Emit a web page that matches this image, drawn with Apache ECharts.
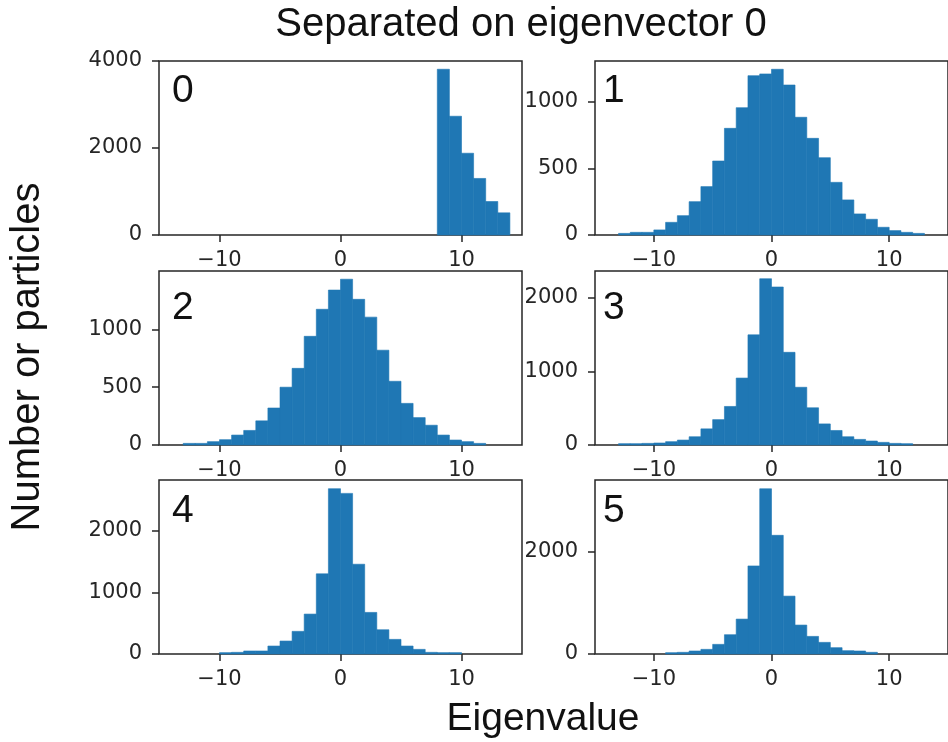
<!DOCTYPE html>
<html>
<head>
<meta charset="utf-8">
<script src="https://cdn.jsdelivr.net/npm/echarts@6/dist/echarts.min.js"></script>
<style>
html, body { margin: 0; padding: 0; background: #fff; }
#chart { width: 948px; height: 742px; }
</style>
</head>
<body>
<div id="chart"></div>
<script>
// histogram of eigenvalues, one panel per eigenvector, bins of width 1
const panelNames = ['0', '1', '2', '3', '4', '5']
const firstEdge = [8, -13, -13, -13, -10, -9]
const binWidth = 1
const counts0 = [3810, 2730, 1880, 1300, 770, 510]
const counts1 = [12, 20, 20, 38, 95, 145, 250, 363, 555, 800, 955, 1195, 1208, 1243, 1125, 883, 725, 580, 395, 263, 158, 118, 58, 33, 20, 12]
const counts2 = [14, 14, 29, 46, 86, 126, 209, 320, 500, 663, 940, 1174, 1340, 1434, 1260, 1106, 820, 551, 360, 237, 171, 86, 43, 29, 14]
const counts3 = [18, 18, 22, 27, 45, 67, 112, 219, 344, 523, 908, 1494, 2255, 2143, 1257, 783, 505, 286, 197, 112, 76, 54, 36, 22, 18]
const counts4 = [22, 27, 49, 49, 129, 210, 367, 647, 1299, 2679, 2603, 1455, 674, 393, 237, 129, 75, 27, 22, 22]
const counts5 = [26, 33, 59, 91, 189, 378, 684, 1726, 3238, 2326, 1134, 567, 345, 228, 124, 65, 59, 33]
const allCounts = [counts0, counts1, counts2, counts3, counts4, counts5]

const xTicks = [-10, 0, 10]
const yTicks = [[0, 2000, 4000], [0, 500, 1000], [0, 500, 1000], [0, 1000, 2000], [0, 1000, 2000], [0, 2000]]
const yMax = [4000, 1305, 1505, 2360, 2820, 3410]

const colLeft = [159, 595]
const rowTop = [61, 271, 480]
const gridW = 363
const gridH = 174
const numX = [172, 603]
const numY = [91, 308, 511]

const ink = '#262626'
const barColor = '#1f77b4'
const tickFont = 'DejaVu Sans'
const textFont = 'Liberation Sans'

const fmt = v => (v < 0 ? '\u2212' + Math.abs(v) : String(v))

const renderBar = (params, api) => {
  const p0 = api.coord([api.value(0), api.value(2)])
  const p1 = api.coord([api.value(1), 0])
  return {
    type: 'rect',
    shape: { x: p0[0], y: p0[1], width: p1[0] - p0[0], height: p1[1] - p0[1] },
    style: { fill: barColor, stroke: barColor, lineWidth: 0.6 }
  }
}

const grids = [], xAxes = [], yAxes = [], series = [], graphics = []

allCounts.forEach((counts, i) => {
  const col = i % 2
  const row = Math.floor(i / 2)
  grids.push({
    left: colLeft[col], top: rowTop[row], width: gridW, height: gridH,
    show: true, borderColor: ink, borderWidth: 1.5, backgroundColor: 'transparent'
  })
  xAxes.push({
    type: 'value', gridIndex: i, min: -15, max: 15, position: 'bottom',
    axisLine: { show: false, onZero: false },
    splitLine: { show: false },
    axisTick: { show: true, length: 7, lineStyle: { color: ink, width: 1.5 }, customValues: xTicks },
    axisLabel: { color: ink, fontFamily: tickFont, fontSize: 21, margin: 15, customValues: xTicks, formatter: fmt }
  })
  yAxes.push({
    type: 'value', gridIndex: i, min: 0, max: yMax[i], position: 'left',
    axisLine: { show: false, onZero: false },
    splitLine: { show: false },
    axisTick: { show: true, length: 7, lineStyle: { color: ink, width: 1.5 }, customValues: yTicks[i] },
    axisLabel: { color: ink, fontFamily: tickFont, fontSize: 21, margin: 17, customValues: yTicks[i], formatter: fmt }
  })
  series.push({
    type: 'custom', name: panelNames[i], xAxisIndex: i, yAxisIndex: i,
    renderItem: renderBar,
    encode: { x: [0, 1], y: 2 },
    data: counts.map((c, k) => [firstEdge[i] + k * binWidth, firstEdge[i] + (k + 1) * binWidth, c])
  })
  graphics.push({
    type: 'text', x: numX[col], y: numY[row],
    style: { text: panelNames[i], font: '39px "' + textFont + '"', fill: '#111', textAlign: 'left', textVerticalAlign: 'middle' }
  })
})

graphics.push({
  type: 'text', x: 521, y: 25,
  style: { text: 'Separated on eigenvector 0', font: '40px "' + textFont + '"', fill: '#111', textAlign: 'center', textVerticalAlign: 'middle' }
})
graphics.push({
  type: 'text', x: 543, y: 719,
  style: { text: 'Eigenvalue', font: '39px "' + textFont + '"', fill: '#111', textAlign: 'center', textVerticalAlign: 'middle' }
})
graphics.push({
  type: 'text', x: 28, y: 357, rotation: Math.PI / 2,
  style: { text: 'Number or particles', font: '40px "' + textFont + '"', fill: '#111', textAlign: 'center', textVerticalAlign: 'middle' }
})

const chart = echarts.init(document.getElementById('chart'))
chart.setOption({
  backgroundColor: '#fff',
  animation: false,
  grid: grids,
  xAxis: xAxes,
  yAxis: yAxes,
  series: series,
  graphic: graphics
})
</script>
</body>
</html>
